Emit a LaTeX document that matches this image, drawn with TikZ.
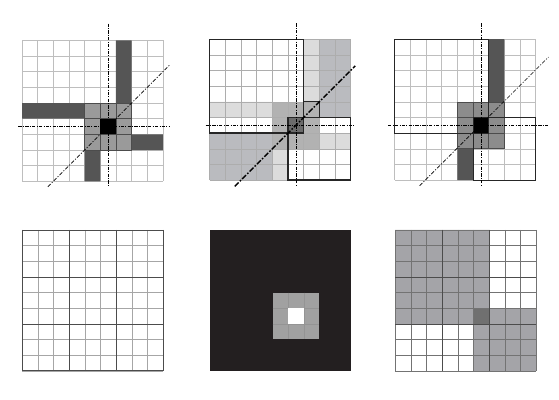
\documentclass[tikz,border=0pt]{standalone}
\usepackage{tikz}
\definecolor{lightline}{HTML}{BEBEBE}
\definecolor{darkbar}{HTML}{555555}
\definecolor{midfill}{HTML}{9A9A9A}
\definecolor{palefill}{HTML}{DCDCDC}
\definecolor{greyfill}{HTML}{BABBBF}
\definecolor{inkfill}{HTML}{231F20}
\definecolor{maskfill}{HTML}{A4A4A8}
\tikzset{cellline/.style={draw=lightline,line width=0.5pt}}
\tikzset{blockline/.style={draw=black!70,line width=0.6pt}}
\tikzset{axisline/.style={line width=0.6pt,dash pattern=on 3pt off 1.2pt on 0.8pt off 1.2pt}}
\tikzset{diagline/.style={line width=0.6pt,dash pattern=on 3.5pt off 1.5pt on 1pt off 1.5pt}}
\tikzset{window/.style={draw=black!85,line width=1.3pt}}

\begin{document}
\begin{tikzpicture}[x=0.5cm,y=-0.5cm]
      \useasboundingbox (0,0) rectangle (35.719,25.559);
      \coordinate (A) at (1.412,2.585);
      \coordinate (B) at (13.403,2.508);
      \coordinate (C) at (25.224,2.508);
      \coordinate (D) at (1.425,14.693);
      \coordinate (E) at (13.415,14.693);
      \coordinate (F) at (25.268,14.693);

      % top left
      \begin{scope}[shift={(A)}]
        \fill[midfill] (4,4) rectangle (7,7);
        \foreach \i in {0,...,9} {\draw[cellline] (\i,0) -- (\i,9); \draw[cellline] (0,\i) -- (9,\i);}
        \fill[darkbar] (6,0) rectangle (7,4) (0,4) rectangle (4,5) (7,6) rectangle (9,7) (4,7) rectangle (5,9);
        \foreach \i in {4,...,7} {\draw[blockline] (\i,4) -- (\i,7); \draw[blockline] (4,\i) -- (7,\i);}
        \fill[black] (5,5) rectangle (6,6);
        \draw[axisline] (5.5,-1.08) -- (5.5,9.33);
        \draw[axisline] (-0.23,5.5) -- (9.42,5.5);
        \draw[diagline] (1.65,9.35) -- (9.45,1.55);
      \end{scope}

      % top middle
      \begin{scope}[shift={(B)}]
        \fill[palefill] (6,0) rectangle (7,4) (0,4) rectangle (4,5) (7,6) rectangle (9,7) (4,7) rectangle (5,9);
        \fill[greyfill] (7,0) rectangle (9,5) (0,6) rectangle (4,9);
        \fill[black!30] (4,4) rectangle (7,7);
        \fill[black!58] (5,5) rectangle (6,6);
        \foreach \i in {0,...,9} {\draw[cellline,draw=black!32] (\i,0) -- (\i,9); \draw[cellline,draw=black!32] (0,\i) -- (9,\i);}
        \draw[blockline] (5,5) rectangle (6,6);
        \draw[window,line width=0.9pt] (6,4) rectangle (7,5);
        \draw[window] (0,0) rectangle (6,6);
        \draw[window] (5,5) rectangle (9,9);
        \draw[axisline] (5.5,-1.02) -- (5.5,9.36);
        \draw[axisline] (-0.27,5.5) -- (9.25,5.5);
        \draw[line width=1.2pt,dash pattern=on 5pt off 1.5pt on 1.5pt off 1.5pt] (1.6,9.4) -- (9.3,1.7);
      \end{scope}

      % top right
      \begin{scope}[shift={(C)}]
        \fill[black!45] (4,4) rectangle (7,7);
        \foreach \i in {0,...,9} {\draw[cellline] (\i,0) -- (\i,9); \draw[cellline] (0,\i) -- (9,\i);}
        \fill[darkbar] (6,0) rectangle (7,4) (4,7) rectangle (5,9);
        \foreach \i in {4,...,7} {\draw[blockline] (\i,4) -- (\i,7); \draw[blockline] (4,\i) -- (7,\i);}
        \fill[black] (5,5) rectangle (6,6);
        \draw[window,line width=0.8pt] (0,0) rectangle (6,6);
        \draw[window,line width=0.8pt] (5,5) rectangle (9,9);
        \draw[axisline] (5.5,-1.02) -- (5.5,9.36);
        \draw[axisline] (-0.42,5.5) -- (9.82,5.5);
        \draw[diagline] (1.59,9.36) -- (9.82,1.14);
      \end{scope}

      % bottom left
      \begin{scope}[shift={(D)}]
        \foreach \i in {0,...,9} {\draw[cellline,draw=black!35] (\i,0) -- (\i,9); \draw[cellline,draw=black!35] (0,\i) -- (9,\i);}
        \foreach \i in {0,3,6,9} {\draw[blockline] (\i,0) -- (\i,9); \draw[blockline] (0,\i) -- (9,\i);}
      \end{scope}

      % bottom middle
      \begin{scope}[shift={(E)}]
        \fill[inkfill] (0,0) rectangle (9,9);
        \fill[black!37] (4,4) rectangle (7,7);
        \foreach \i in {5,6} {\draw[black!42,line width=0.3pt] (\i,4) -- (\i,7); \draw[black!42,line width=0.3pt] (4,\i) -- (7,\i);}
        \fill[white] (5,5) rectangle (6,6);
      \end{scope}

      % bottom right
      \begin{scope}[shift={(F)}]
        \fill[maskfill] (0,0) rectangle (6,6) (5,5) rectangle (9,9);
        \fill[black!56] (5,5) rectangle (6,6);
        \foreach \i in {0,...,9} {\draw[cellline,draw=black!55] (\i,0) -- (\i,9); \draw[cellline,draw=black!55] (0,\i) -- (9,\i);}
        \foreach \i in {3,6} {\draw[blockline] (\i,0) -- (\i,9); \draw[blockline] (0,\i) -- (9,\i);}
      \end{scope}
    \end{tikzpicture}
\end{document}
